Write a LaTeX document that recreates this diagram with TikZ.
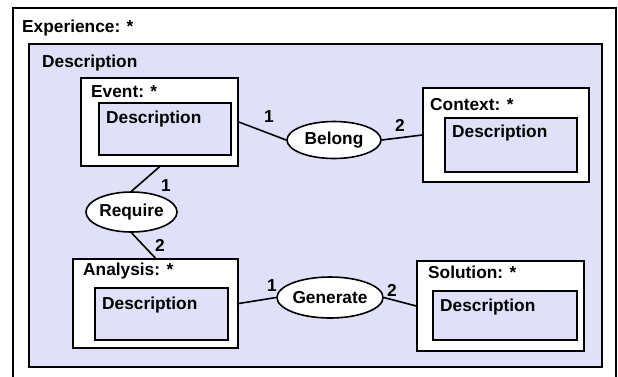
\documentclass[tikz,border=0pt]{standalone}
\usepackage{fontspec}
\setmainfont{Liberation Sans}
\usetikzlibrary{shapes.geometric}
\definecolor{lavender}{RGB}{224,224,248}
\tikzset{
  frame/.style={draw=black, line width=1.6pt, rectangle, inner sep=0pt},
  whitebox/.style={frame, fill=white},
  descbox/.style={frame, fill=lavender},
  relation/.style={draw=black, line width=1.6pt, ellipse, fill=white, inner sep=0pt,
                   font=\fontsize{17.3}{20}\selectfont\bfseries},
  caption/.style={anchor=base west, inner sep=0pt, font=\fontsize{17.3}{20}\selectfont\bfseries},
  card/.style={inner sep=0pt, font=\fontsize{17.3}{20}\selectfont\bfseries},
  link/.style={draw=black, line width=1.6pt}
}
\begin{document}
\begin{tikzpicture}[x=1pt,y=-1pt]
  \useasboundingbox (0,0) rectangle (618,376);
  \clip (0,0) rectangle (618,376);
  \fill[white] (0,0) rectangle (618,376);

  % outer experience frame and its description area
  \node[whitebox, minimum width=603pt, minimum height=384pt] (experience) at (314.5,200) {};
  \node[descbox, minimum width=573pt, minimum height=323pt] (expdesc) at (315.5,205.5) {};
  \node[caption] (experiencetitle) at (22,32) {Experience: *};
  \node[caption] (expdesctitle) at (42,67) {Description};

  % entity boxes
  \node[whitebox, minimum width=157pt, minimum height=88pt] (event) at (159.5,122) {};
  \node[descbox, minimum width=132pt, minimum height=52pt] (eventdesc) at (165,129) {};
  \node[caption] (eventtitle) at (91,97) {Event: *};
  \node[caption] (eventdesctitle) at (106,123) {Description};

  \node[whitebox, minimum width=166pt, minimum height=94pt] (context) at (506,135) {};
  \node[descbox, minimum width=132pt, minimum height=54pt] (contextdesc) at (511,145) {};
  \node[caption] (contexttitle) at (430,110) {Context: *};
  \node[caption] (contextdesctitle) at (452,137) {Description};

  \node[whitebox, minimum width=165pt, minimum height=89pt] (analysis) at (155.5,303.5) {};
  \node[descbox, minimum width=133pt, minimum height=52pt] (analysisdesc) at (161.5,314) {};
  \node[caption] (analysistitle) at (83,275) {Analysis: *};
  \node[caption] (analysisdesctitle) at (102,309) {Description};

  \node[whitebox, minimum width=167pt, minimum height=90pt] (solution) at (500.5,306) {};
  \node[descbox, minimum width=144pt, minimum height=49pt] (solutiondesc) at (505,315.5) {};
  \node[caption] (solutiontitle) at (428,278) {Solution: *};
  \node[caption] (solutiondesctitle) at (440,311) {Description};

  % relations
  \node[relation, minimum width=94pt, minimum height=37pt] (belong) at (334,140) {Belong};
  \node[relation, minimum width=89pt, minimum height=40pt] (require) at (131.5,212) {Require};
  \node[relation, minimum width=93pt, minimum height=41pt] (generate) at (330,297.5) {Generate};

  % connectors
  \draw[link] (event.east) -- (belong.west);
  \draw[link] (belong.east) -- (context.west);
  \draw[link] (event.south) -- (require.north);
  \draw[link] (require.south) -- (analysis.north);
  \draw[link] (analysis.east) -- (generate.west);
  \draw[link] (generate.east) -- (solution.west);

  % cardinalities
  \node[card] (c1) at (269,117) {1};
  \node[card] (c2) at (400,125) {2};
  \node[card] (c3) at (166,186) {1};
  \node[card] (c4) at (160,245) {2};
  \node[card] (c5) at (272,286) {1};
  \node[card] (c6) at (392,290) {2};
\end{tikzpicture}
\end{document}
